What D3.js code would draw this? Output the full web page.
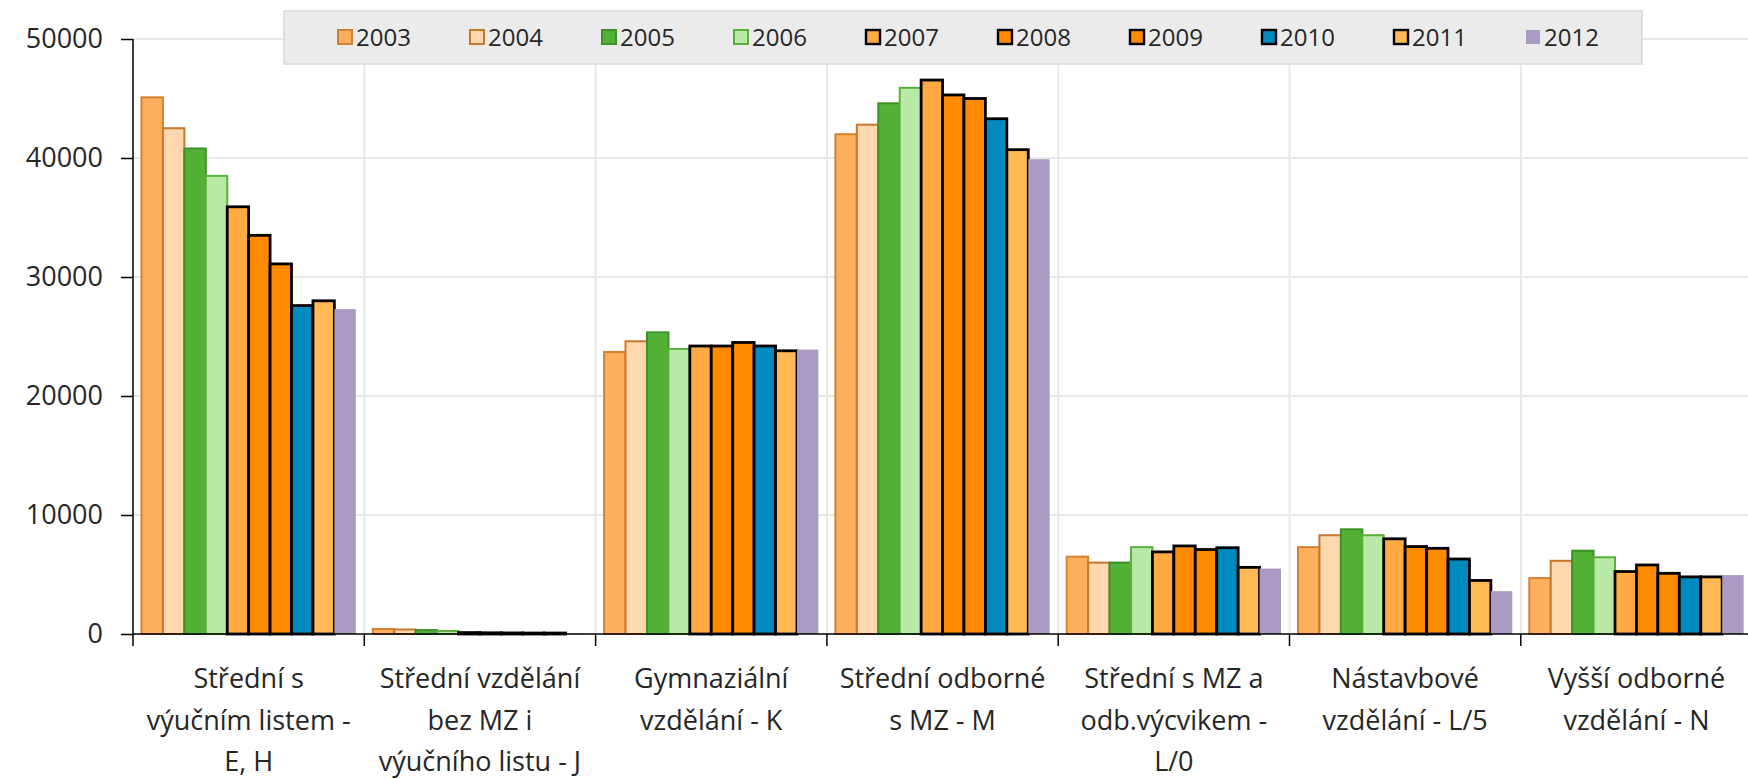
<!DOCTYPE html>
<html>
<head>
<meta charset="utf-8">
<script src="https://cdn.jsdelivr.net/npm/d3@7/dist/d3.min.js"></script>
<style>
  html, body { margin: 0; padding: 0; background: #fff; }
  svg { display: block; }
  text { font-family: "Open Sans", "Noto Sans", sans-serif; fill: #262626; }
</style>
</head>
<body>
<svg id="chart" width="1748" height="779"></svg>
<script>
// ---- Data ----
const categories = [
  ["Střední s", "výučním listem -", "E, H"],
  ["Střední vzdělání", "bez MZ i", "výučního listu - J"],
  ["Gymnaziální", "vzdělání - K"],
  ["Střední odborné", "s MZ - M"],
  ["Střední s MZ a", "odb.výcvikem -", "L/0"],
  ["Nástavbové", "vzdělání - L/5"],
  ["Vyšší odborné", "vzdělání - N"]
];
const years = ["2003","2004","2005","2006","2007","2008","2009","2010","2011","2012"];
const v2003 = [45100, 420, 23700, 42000, 6500, 7300, 4700];
const v2004 = [42500, 380, 24600, 42800, 6000, 8300, 6150];
const v2005 = [40800, 330, 25350, 44600, 6000, 8800, 7000];
const v2006 = [38500, 250, 23950, 45900, 7300, 8300, 6450];
const v2007 = [35900, 120, 24200, 46550, 6900, 8000, 5250];
const v2008 = [33500, 100, 24200, 45300, 7400, 7350, 5800];
const v2009 = [31100, 90, 24500, 45000, 7100, 7200, 5100];
const v2010 = [27600, 80, 24200, 43300, 7250, 6300, 4800];
const v2011 = [28000, 80, 23800, 40700, 5600, 4500, 4800];
const v2012 = [27300, 40, 23900, 39900, 5500, 3600, 4950];
const yTicks = [0, 10000, 20000, 30000, 40000, 50000];

const seriesValues = [v2003, v2004, v2005, v2006, v2007, v2008, v2009, v2010, v2011, v2012];
const fills   = ["#FFB05E","#FFD8B0","#53B236","#B9E9A7","#FFAA42","#FF8A00","#FF8A00","#008ABD","#FFBA55","#A99BC1"];
const strokes = ["#D6802F","#C8782E","#3F912A","#5AB03C","#000","#000","#000","#000","#000","none"];
const strokeW = [2, 2, 2, 2, 2.8, 2.8, 2.8, 2.8, 2.8, 0];

(function () {
// ---- Layout ----
const svg = d3.select("#chart");
const mLeft = 133, mTop = 39, mBottom = 634;
const catW = 231.3;
const mRight = mLeft + catW * categories.length;

const x0 = d3.scaleBand().domain(d3.range(categories.length)).range([mLeft, mRight]).padding(0);
const x1 = d3.scaleBand().domain(years).range([8.5, catW - 8.5]).padding(0);
const y = d3.scaleLinear().domain([0, 50000]).range([mBottom, mTop]);

// gridlines
const grid = svg.append("g");
grid.selectAll("line.h").data(yTicks.filter(d => d > 0)).join("line")
  .attr("x1", mLeft).attr("x2", 1748)
  .attr("y1", d => y(d)).attr("y2", d => y(d))
  .attr("stroke", "#e8e8e8").attr("stroke-width", 2);
grid.selectAll("line.v").data(d3.range(1, categories.length + 1)).join("line")
  .attr("x1", d => mLeft + d * catW).attr("x2", d => mLeft + d * catW)
  .attr("y1", y(50000)).attr("y2", mBottom)
  .attr("stroke", "#e8e8e8").attr("stroke-width", 2);

// bars
const series = years.map((yr, i) => ({ year: yr, values: seriesValues[i], i }));
const bars = svg.append("g");
series.forEach(s => {
  bars.append("g").selectAll("rect").data(s.values).join("rect")
    .attr("x", (d, ci) => x0(ci) + x1(s.year))
    .attr("y", d => y(d))
    .attr("width", x1.bandwidth())
    .attr("height", d => mBottom - y(d))
    .attr("fill", fills[s.i])
    .attr("stroke", strokes[s.i])
    .attr("stroke-width", strokeW[s.i]);
});

// y axis
const yAxis = d3.axisLeft(y).tickValues(yTicks).tickSize(12).tickPadding(18).tickFormat(d3.format("d"));
const ya = svg.append("g").attr("transform", `translate(${mLeft},0)`).call(yAxis);
ya.select(".domain").remove();
ya.selectAll(".tick line").attr("stroke", "#000").attr("stroke-width", 1.5);
ya.selectAll(".tick text").attr("font-size", 27).attr("fill", "#262626")
  .attr("font-family", "Open Sans, Noto Sans, sans-serif");
ya.append("line").attr("x1", 0).attr("x2", 0).attr("y1", y(50000)).attr("y2", mBottom)
  .attr("stroke", "#000").attr("stroke-width", 1.5);

// x axis
const xa = svg.append("g");
xa.append("line").attr("x1", mLeft).attr("x2", 1748).attr("y1", mBottom).attr("y2", mBottom)
  .attr("stroke", "#000").attr("stroke-width", 1.5);
xa.selectAll("line.t").data(d3.range(0, categories.length + 1)).join("line")
  .attr("x1", d => mLeft + d * catW).attr("x2", d => mLeft + d * catW)
  .attr("y1", mBottom).attr("y2", mBottom + 12)
  .attr("stroke", "#000").attr("stroke-width", 1.5);

const labels = xa.selectAll("text.cat").data(categories).join("text")
  .attr("text-anchor", "middle")
  .attr("font-size", 27)
  .attr("x", (d, i) => x0(i) + catW / 2);
labels.each(function(lines, i) {
  d3.select(this).selectAll("tspan").data(lines).join("tspan")
    .attr("x", x0(i) + catW / 2)
    .attr("y", (l, li) => 688 + li * 41.5)
    .text(l => l);
});

// legend
const lg = svg.append("g");
lg.append("rect").attr("x", 284).attr("y", 11).attr("width", 1642 - 284).attr("height", 53)
  .attr("fill", "#ebebeb").attr("stroke", "#d9d9d9").attr("stroke-width", 1.5);
const lx = d3.scaleBand().domain(years).range([338, 338 + 132 * years.length]);
const items = lg.selectAll("g.item").data(series).join("g")
  .attr("transform", d => `translate(${lx(d.year)},37)`);
items.append("rect")
  .attr("x", 0).attr("y", -7).attr("width", 14).attr("height", 14)
  .attr("fill", d => fills[d.i])
  .attr("stroke", d => strokes[d.i])
  .attr("stroke-width", d => d.i >= 4 && d.i <= 8 ? 2.4 : 2);
items.append("text")
  .attr("x", 18).attr("y", 0).attr("dy", "0.36em")
  .attr("font-size", 24)
  .text(d => d.year);
})();
</script>
</body>
</html>
